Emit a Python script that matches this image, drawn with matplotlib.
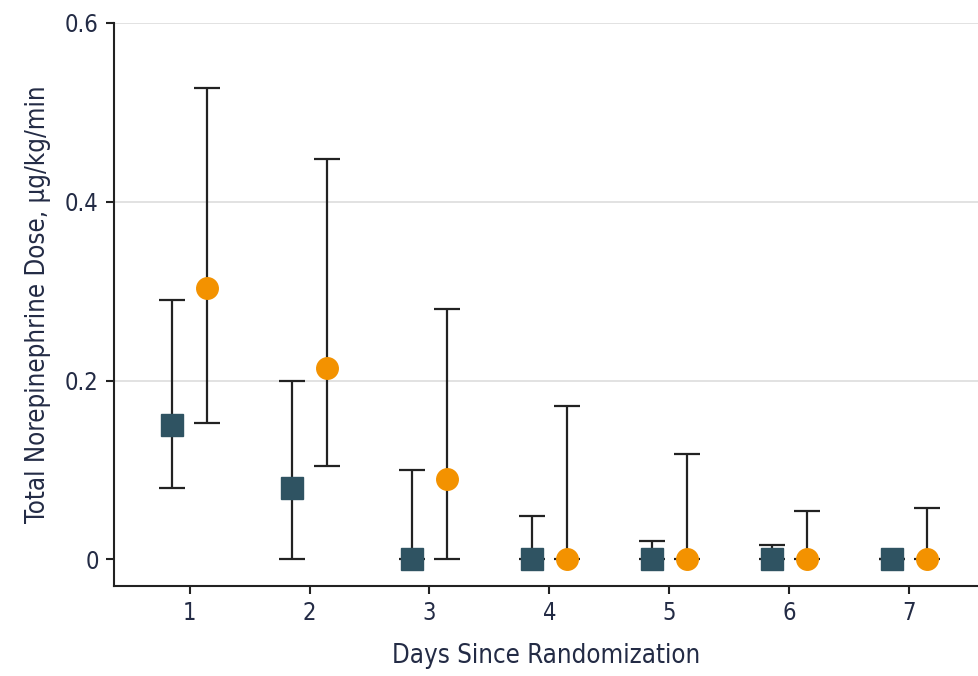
import matplotlib as mpl
mpl.use('Agg')
import matplotlib.pyplot as plt
import numpy as np

plt.rcParams['font.family'] = ['DejaVu Sans']
plt.rcParams['font.stretch'] = 'condensed'

days = [1, 2, 3, 4, 5, 6, 7]
# squares (dark)
sq_med = [0.15, 0.08, 0.0, 0.0, 0.0, 0.0, 0.0]
sq_lo = [0.08, 0.0, 0.0, 0.0, 0.0, 0.0, 0.0]
sq_hi = [0.29, 0.20, 0.10, 0.048, 0.021, 0.016, 0.0]
# circles (orange)
ci_med = [0.303, 0.214, 0.09, 0.0, 0.0, 0.0, 0.0]
ci_lo = [0.153, 0.104, 0.0, 0.0, 0.0, 0.0, 0.0]
ci_hi = [0.527, 0.448, 0.28, 0.172, 0.118, 0.054, 0.057]

offset = 0.145
txt_color = '#232b45'

fig = plt.figure(figsize=(9.79, 6.76), dpi=100)
ax = fig.add_axes([0.1164, 0.133, 0.8836, 0.833])

x = np.array(days)
sq_med_a = np.array(sq_med)
ci_med_a = np.array(ci_med)
sq_err = [sq_med_a - np.array(sq_lo), np.array(sq_hi) - sq_med_a]
ci_err = [ci_med_a - np.array(ci_lo), np.array(ci_hi) - ci_med_a]

for yv in [0.2, 0.4, 0.6]:
    ax.axhline(yv, color='#dddddd', linewidth=1.2, zorder=0)

ax.errorbar(x - offset, sq_med, yerr=sq_err, fmt='none', ecolor='#222222',
            elinewidth=1.6, capsize=9.5, capthick=1.6, zorder=2)
ax.errorbar(x + offset, ci_med, yerr=ci_err, fmt='none', ecolor='#222222',
            elinewidth=1.6, capsize=9.5, capthick=1.6, zorder=2)
ax.plot(x - offset, sq_med, 's', color='#2f5362', markersize=15.5, zorder=3)
ax.plot(x + offset, ci_med, 'o', color='#f39200', markersize=15.5, zorder=3)

ax.set_xlim(0.37, 7.58)
ax.set_ylim(-0.030, 0.6)
ax.set_xticks(days)
ax.set_yticks([0, 0.2, 0.4, 0.6])
ax.set_yticklabels(['0', '0.2', '0.4', '0.6'])

for s in ['top', 'right']:
    ax.spines[s].set_visible(False)
for s in ['left', 'bottom']:
    ax.spines[s].set_linewidth(1.5)
    ax.spines[s].set_color('#222222')

ax.tick_params(axis='both', direction='out', length=6, width=1.5, color='#222222',
               labelsize=17, labelcolor=txt_color, pad=5)

ax.set_xlabel('Days Since Randomization', fontsize=18.5, color=txt_color, labelpad=13)
ax.set_ylabel('Total Norepinephrine Dose, µg/kg/min', fontsize=18.5, color=txt_color, labelpad=10)

fig.savefig('out.png', dpi=100)
